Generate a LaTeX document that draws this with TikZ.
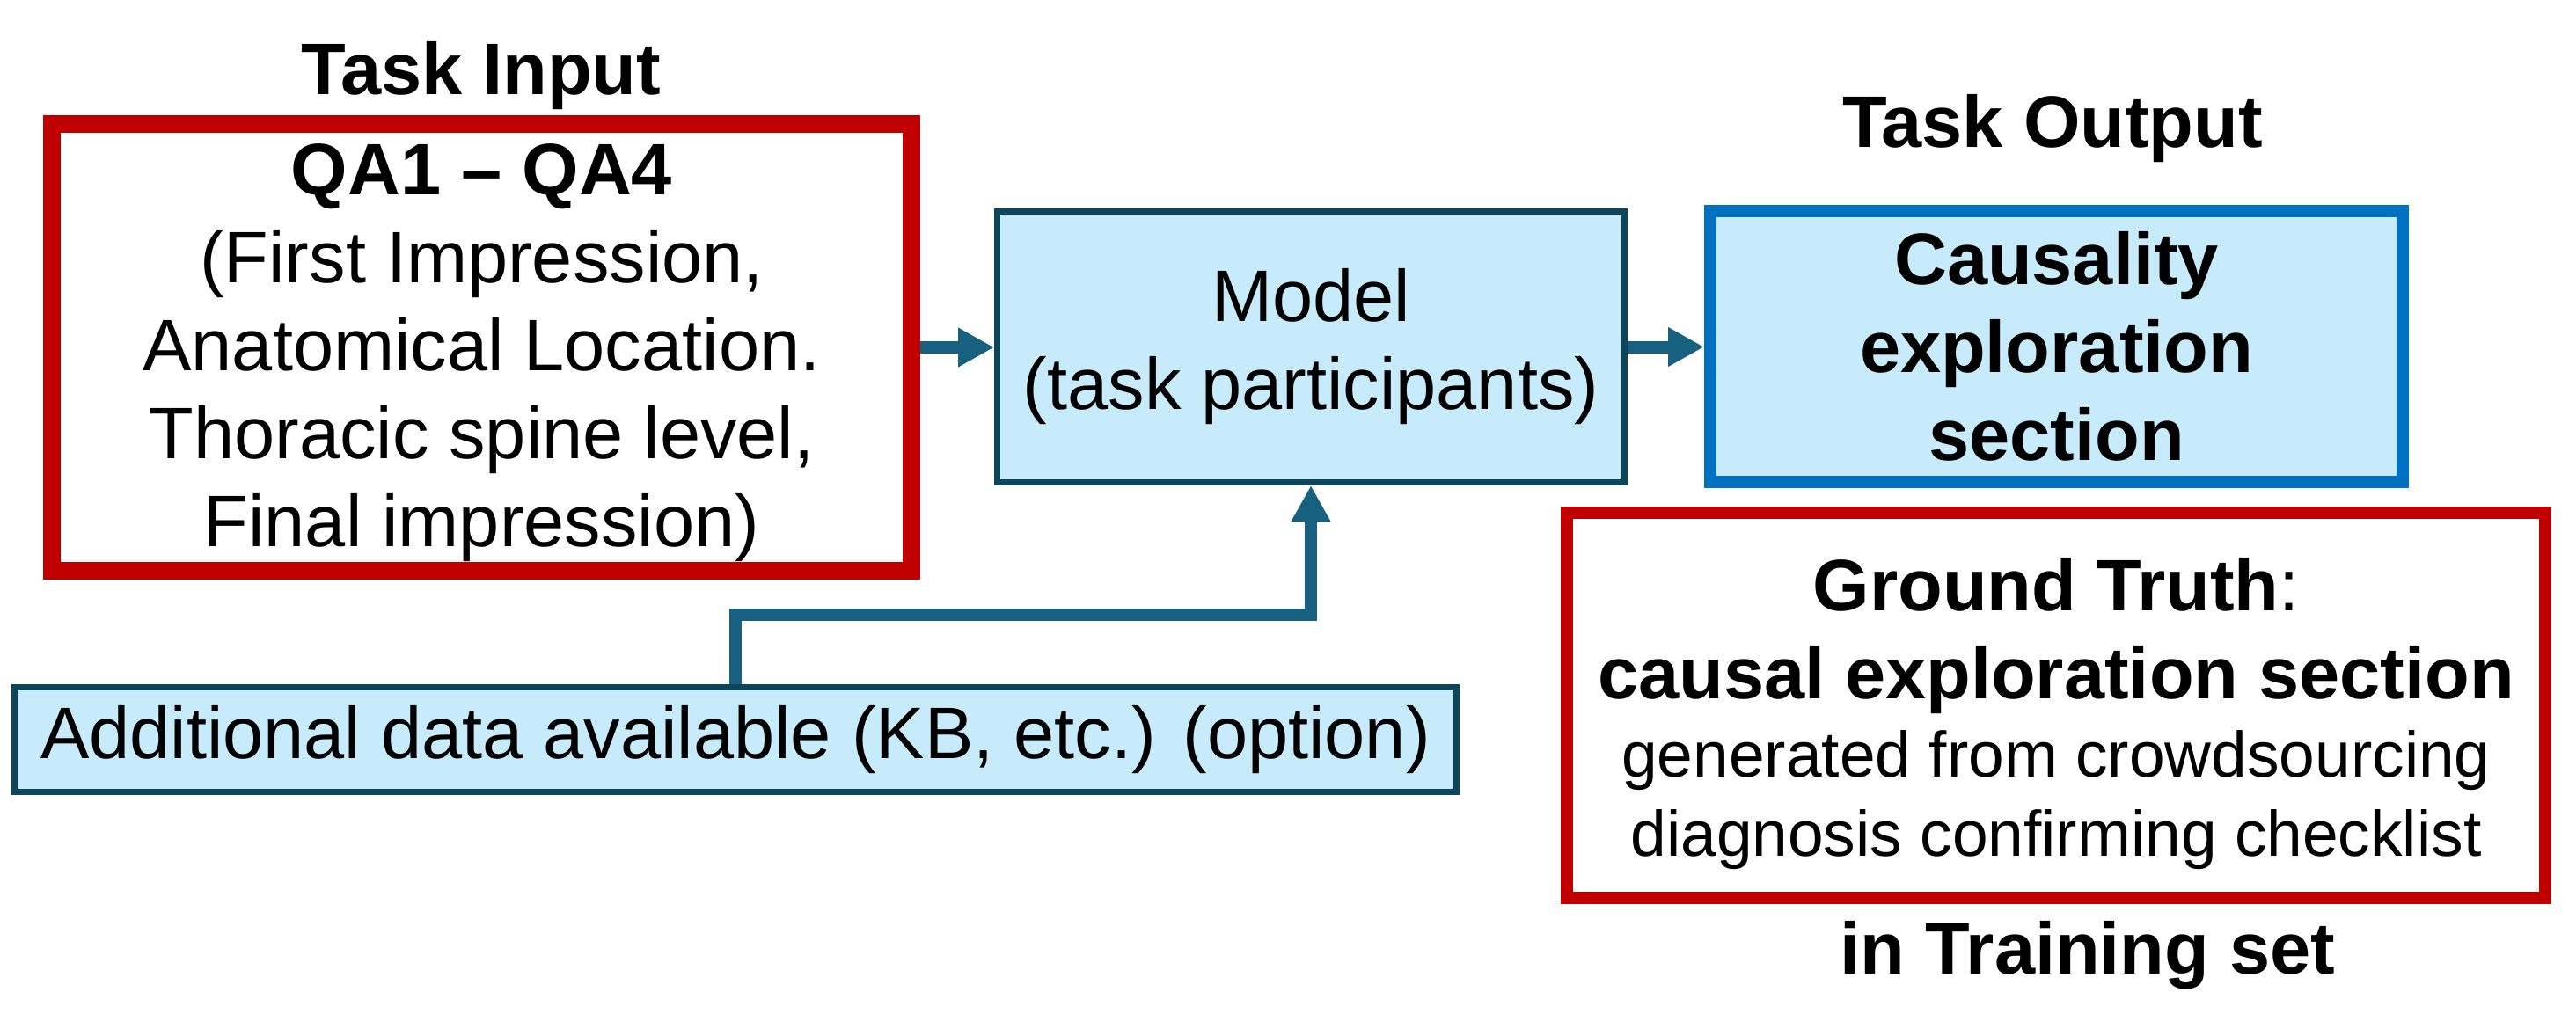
\documentclass[tikz,border=0pt]{standalone}
\usepackage{fontspec}
\setmainfont{Liberation Sans}
\usetikzlibrary{arrows.meta}

\definecolor{boxred}{RGB}{192,0,0}
\definecolor{boxblue}{RGB}{0,112,192}
\definecolor{boxteal}{RGB}{12,70,90}
\definecolor{flowteal}{RGB}{24,96,128}
\definecolor{boxfill}{RGB}{199,235,250}

\begin{document}
\begin{tikzpicture}[x=1cm,y=1cm,
  every node/.style={font=\fontsize{23.6}{28.45}\selectfont, inner sep=0pt, align=center},
  title/.style={font=\fontsize{23.6}{28.45}\selectfont\bfseries, anchor=base},
  inbox/.style={draw=boxred, line width=0.2cm, minimum width=9.77cm, minimum height=5.08cm},
  modelbox/.style={draw=boxteal, fill=boxfill, line width=0.07cm, minimum width=7.13cm, minimum height=3.08cm},
  outbox/.style={draw=boxblue, fill=boxfill, line width=0.14cm, minimum width=7.87cm, minimum height=3.08cm},
  truthbox/.style={draw=boxred, line width=0.14cm, minimum width=11.12cm, minimum height=4.38cm},
  databox/.style={draw=boxteal, fill=boxfill, line width=0.07cm, minimum width=16.39cm, minimum height=1.19cm},
  flow/.style={draw=flowteal, line width=0.14cm, -{Triangle[length=0.41cm,width=0.42cm]}}
]
  \useasboundingbox (0,0) rectangle (29.28,11.77);

  % titles
  \node[title] (tin) at (5.47,10.69) {Task Input};
  \node[title] (tout) at (23.33,10.09) {Task Output};
  \node[title] (train) at (23.73,0.70) {in Training set};

  % boxes
  \node[inbox] (input) at (5.475,7.82)
    {\rule{0pt}{0.7cm}\textbf{QA1 -- QA4}\\(First Impression,\\Anatomical Location.\\Thoracic spine level,\\Final impression)};
  \node[modelbox] (model) at (14.90,7.825) {Model\\(task participants)};
  \node[outbox] (out) at (23.375,7.83)
    {\textbf{Causality}\\\textbf{exploration}\\\textbf{section}};
  \node[truthbox] (truth) at (23.37,3.75)
    {\rule{0pt}{0.79cm}\textbf{Ground Truth}:\\
     \textbf{causal exploration section}\\[-3pt]
     {\fontsize{20.8}{25}\selectfont generated from crowdsourcing}\\[-3pt]
     {\fontsize{20.8}{25}\selectfont diagnosis confirming checklist}};
  \node[databox] (data) at (8.36,3.36) {Additional data available (KB, etc.) (option)};

  % connectors
  \draw[flow] (input.east) -- (input.east -| model.west);
  \draw[flow] (model.east) -- (model.east -| out.west);
  \draw[flow] (data.north) -- ++(0,0.79) -| (model.south);
\end{tikzpicture}
\end{document}
